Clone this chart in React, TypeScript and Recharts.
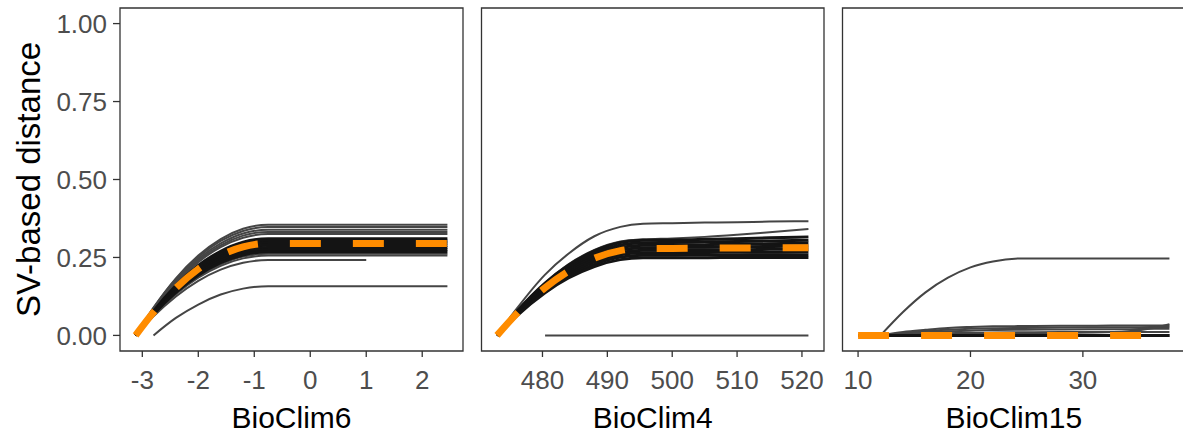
import React from 'react';
import { LineChart, Line, XAxis, YAxis, ReferenceArea } from 'recharts';

// ---------- shared y axis ----------
const Y_TICKS = [0, 0.25, 0.5, 0.75, 1];
const Y_DOMAIN: [number, number] = [-0.05, 1.05];
const Y_TITLE = 'SV-based distance';

// ---------- BioClim6 ----------
const bio6Title = 'BioClim6';
const bio6Ticks = [-3, -2, -1, 0, 1, 2];
const bio6Domain: [number, number] = [-3.3985, 2.7285];
const bio6X = [-3.12, -2.8, -2.4, -2.0, -1.6, -1.2, -0.75, 0, 1, 2.45];
const bio6Gray = [
  [0, 0.089, 0.183, 0.256, 0.309, 0.342, 0.355, 0.355, 0.355, 0.355],
  [0, 0.088, 0.18, 0.251, 0.303, 0.335, 0.348, 0.348, 0.348, 0.348],
  [0, 0.085, 0.175, 0.245, 0.295, 0.327, 0.339, 0.339, 0.339, 0.339],
  [0, 0.084, 0.171, 0.24, 0.289, 0.32, 0.332, 0.332, 0.332, 0.332],
  [0, 0.082, 0.168, 0.235, 0.283, 0.313, 0.325, 0.325, 0.325, 0.325],
  [0, 0.066, 0.135, 0.189, 0.228, 0.253, 0.262, 0.262, 0.262, 0.262],
  [0, 0.065, 0.132, 0.185, 0.223, 0.247, 0.256, 0.256, 0.256, 0.256],
  [0, 0.061, 0.125, 0.175, 0.211, 0.233, 0.242, 0.242, 0.242, null],
  [null, 0, 0.056, 0.099, 0.131, 0.15, 0.158, 0.158, 0.158, 0.158],
];
const bio6Black = [
  [0, 0.078, 0.16, 0.224, 0.27, 0.299, 0.31, 0.31, 0.31, 0.31],
  [0, 0.076, 0.156, 0.219, 0.264, 0.292, 0.303, 0.303, 0.303, 0.303],
  [0, 0.075, 0.153, 0.214, 0.258, 0.285, 0.296, 0.296, 0.296, 0.296],
  [0, 0.073, 0.149, 0.209, 0.252, 0.279, 0.289, 0.289, 0.289, 0.289],
  [0, 0.071, 0.146, 0.204, 0.246, 0.272, 0.282, 0.282, 0.282, 0.282],
  [0, 0.069, 0.142, 0.199, 0.24, 0.265, 0.275, 0.275, 0.275, 0.275],
  [0, 0.068, 0.138, 0.193, 0.233, 0.258, 0.268, 0.268, 0.268, 0.268],
];
const bio6Fit = [0, 0.074, 0.152, 0.213, 0.257, 0.284, 0.295, 0.295, 0.295, 0.295];

// ---------- BioClim4 ----------
const bio4Title = 'BioClim4';
const bio4Ticks = [480, 490, 500, 510, 520];
const bio4Domain: [number, number] = [470.6, 523.4];
const bio4X = [473, 476, 480.4, 484, 488, 492, 495.5, 500, 505, 510, 515, 521];
const bio4Gray = [
  [0, 0.085, 0.195, 0.262, 0.318, 0.348, 0.358, 0.36, 0.362, 0.363, 0.365, 0.366],
  [0, 0.075, 0.168, 0.228, 0.274, 0.301, 0.308, 0.311, 0.316, 0.323, 0.331, 0.341],
  [null, null, 0, 0, 0, 0, 0, 0, 0, 0, 0, 0],
];
const bio4Black = [
  [0, 0.076, 0.168, 0.225, 0.271, 0.298, 0.305, 0.306, 0.308, 0.31, 0.313, 0.316],
  [0, 0.074, 0.163, 0.219, 0.264, 0.29, 0.297, 0.298, 0.3, 0.301, 0.303, 0.305],
  [0, 0.072, 0.159, 0.214, 0.257, 0.282, 0.289, 0.29, 0.291, 0.292, 0.294, 0.296],
  [0, 0.07, 0.155, 0.208, 0.25, 0.274, 0.281, 0.282, 0.283, 0.284, 0.285, 0.287],
  [0, 0.068, 0.15, 0.202, 0.243, 0.266, 0.273, 0.274, 0.275, 0.275, 0.276, 0.277],
  [0, 0.066, 0.146, 0.196, 0.236, 0.259, 0.265, 0.266, 0.266, 0.267, 0.267, 0.268],
  [0, 0.064, 0.141, 0.19, 0.228, 0.251, 0.257, 0.257, 0.258, 0.258, 0.259, 0.259],
  [0, 0.062, 0.137, 0.184, 0.221, 0.243, 0.249, 0.249, 0.249, 0.25, 0.25, 0.25],
];
const bio4Fit = [0, 0.069, 0.153, 0.206, 0.248, 0.272, 0.279, 0.279, 0.28, 0.28, 0.281, 0.281];

// ---------- BioClim15 ----------
const bio15Title = 'BioClim15';
const bio15Ticks = [10, 20, 30];
const bio15Domain: [number, number] = [8.615, 39.085];
const bio15X = [10, 12, 14, 16, 18, 20, 22, 24.75, 28, 31, 34, 36, 37.7];
const bio15Gray = [
  [null, 0, 0.075, 0.138, 0.185, 0.218, 0.237, 0.247, 0.247, 0.247, 0.247, 0.247, 0.247],
  [null, 0, 0.011, 0.018, 0.024, 0.027, 0.029, 0.03, 0.031, 0.031, 0.032, 0.032, 0.032],
  [null, 0, 0.008, 0.014, 0.018, 0.021, 0.023, 0.024, 0.025, 0.026, 0.026, 0.027, 0.027],
  [null, 0, 0.006, 0.01, 0.013, 0.015, 0.017, 0.018, 0.019, 0.02, 0.02, 0.021, 0.021],
  [null, 0, 0.002, 0.003, 0.004, 0.005, 0.006, 0.007, 0.008, 0.009, 0.013, 0.022, 0.036],
  [null, 0, 0.003, 0.005, 0.007, 0.008, 0.009, 0.01, 0.011, 0.011, 0.011, 0.011, 0.011],
];
const bio15Black = [
  [0, 0, 0, 0, 0, 0, 0, 0, 0, 0, 0, 0, 0],
  [0, 0, 0, 0, 0, 0, 0, 0, 0, 0, 0, 0, 0],
];
const bio15Fit = [0, 0, 0, 0, 0, 0, 0, 0, 0, 0, 0, 0, 0];

type Series = (number | null)[];

function buildRows(xs: number[], gray: Series[], black: Series[], fit: Series) {
  return xs.map((x, i) => {
    const r: Record<string, number | null> = { x };
    gray.forEach((s, j) => (r['g' + j] = s[i]));
    black.forEach((s, j) => (r['b' + j] = s[i]));
    r.fit = fit[i];
    return r;
  });
}

const FONT = '"Liberation Sans", Arial, Helvetica, sans-serif';
const TICK_STYLE = { fill: '#4D4D4D', fontSize: 26, fontFamily: FONT };
const TICK_LINE = { stroke: '#333333', strokeWidth: 1.3 };

interface PanelProps {
  xs: number[];
  gray: Series[];
  black: Series[];
  fit: Series;
  domain: [number, number];
  ticks: number[];
  title: string;
  left: number;
  width: number;
  margin: { top: number; right: number; bottom: number; left: number };
  showY: boolean;
}

function Panel(p: PanelProps) {
  const rows = buildRows(p.xs, p.gray, p.black, p.fit);
  return (
    <div style={{ position: 'absolute', left: p.left, top: 0 }}>
      <LineChart width={p.width} height={445} data={rows} margin={p.margin}>
        <XAxis
          dataKey="x"
          type="number"
          domain={p.domain}
          ticks={p.ticks}
          interval={0}
          allowDataOverflow
          axisLine={false}
          tickLine={TICK_LINE}
          tickSize={6}
          tickMargin={14}
          tick={TICK_STYLE}
          height={94}
          label={{
            value: p.title,
            position: 'insideBottom',
            offset: 17,
            fill: '#000000',
            fontSize: 30,
            fontFamily: FONT,
          }}
        />
        {p.showY ? (
          <YAxis
            type="number"
            domain={Y_DOMAIN}
            ticks={Y_TICKS}
            interval={0}
            allowDataOverflow
            width={120}
            axisLine={false}
            tickLine={TICK_LINE}
            tickSize={7}
            tickMargin={6}
            tick={TICK_STYLE}
            tickFormatter={(v: number) => v.toFixed(2)}
            label={{
              value: Y_TITLE,
              angle: -90,
              position: 'insideLeft',
              offset: 28,
              fill: '#000000',
              fontSize: 33,
              fontFamily: FONT,
              style: { textAnchor: 'middle' },
            }}
          />
        ) : (
          <YAxis type="number" domain={Y_DOMAIN} allowDataOverflow hide width={0} />
        )}
        <ReferenceArea
          x1={p.domain[0]}
          x2={p.domain[1]}
          y1={Y_DOMAIN[0]}
          y2={Y_DOMAIN[1]}
          fill="none"
          fillOpacity={0}
          stroke="#333333"
          strokeWidth={1.3}
          ifOverflow="visible"
        />
        {p.gray.map((_, j) => (
          <Line
            key={'g' + j}
            dataKey={'g' + j}
            type="monotone"
            stroke="#454545"
            strokeWidth={2}
            dot={false}
            activeDot={false}
            isAnimationActive={false}
          />
        ))}
        {p.black.map((_, j) => (
          <Line
            key={'b' + j}
            dataKey={'b' + j}
            type="monotone"
            stroke="#141414"
            strokeWidth={3}
            dot={false}
            activeDot={false}
            isAnimationActive={false}
          />
        ))}
        <Line
          dataKey="fit"
          type="monotone"
          stroke="#FF8C00"
          strokeWidth={7}
          strokeDasharray="31 32"
          strokeLinecap="butt"
          dot={false}
          activeDot={false}
          isAnimationActive={false}
        />
      </LineChart>
    </div>
  );
}

export default function App() {
  return (
    <div
      style={{
        position: 'absolute',
        left: 0,
        top: 0,
        width: 1183,
        height: 445,
        overflow: 'hidden',
        background: '#ffffff',
        fontFamily: FONT,
      }}
    >
      <Panel
        xs={bio6X}
        gray={bio6Gray}
        black={bio6Black}
        fit={bio6Fit}
        domain={bio6Domain}
        ticks={bio6Ticks}
        title={bio6Title}
        left={0}
        width={475}
        margin={{ top: 8, right: 12, bottom: 0, left: 0 }}
        showY
      />
      <Panel
        xs={bio4X}
        gray={bio4Gray}
        black={bio4Black}
        fit={bio4Fit}
        domain={bio4Domain}
        ticks={bio4Ticks}
        title={bio4Title}
        left={475}
        width={360}
        margin={{ top: 8, right: 11, bottom: 0, left: 6.5 }}
        showY={false}
      />
      <Panel
        xs={bio15X}
        gray={bio15Gray}
        black={bio15Black}
        fit={bio15Fit}
        domain={bio15Domain}
        ticks={bio15Ticks}
        title={bio15Title}
        left={835}
        width={360}
        margin={{ top: 8, right: 10, bottom: 0, left: 7.5 }}
        showY={false}
      />
    </div>
  );
}
